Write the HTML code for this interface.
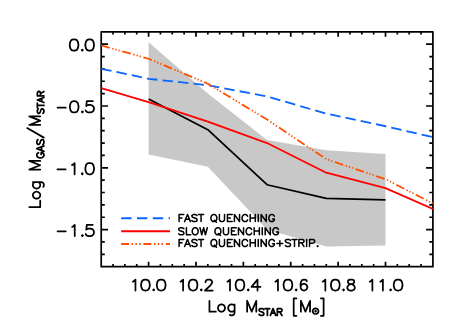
<!DOCTYPE html>
<html><head><meta charset="utf-8"><title>plot</title><style>html,body{margin:0;padding:0;background:#fff;font-family:"Liberation Sans",sans-serif}svg{display:block}</style></head><body>
<svg width="463" height="331" viewBox="0 0 463 331">
<rect width="463" height="331" fill="#fff"/>
<polygon fill="#c8c8c8" points="148.59,42.31 207.82,93.62 267.05,139.98 326.28,150.24 385.51,153.95 385.51,245.44 326.28,246.42 267.05,229.61 207.82,166.81 148.59,154.57"/>
<line x1="121.2" y1="218.3" x2="170" y2="218.3" stroke="#0a64ff" stroke-width="2.1" stroke-dasharray="10.4 5.4"/>
<line x1="121.2" y1="231.2" x2="170" y2="231.2" stroke="#ff0000" stroke-width="2.1"/>
<line x1="121.2" y1="244.05" x2="170" y2="244.05" stroke="#ff4e00" stroke-width="2.1" stroke-dasharray="7.8 2.65 1.5 2.25 1.5 2.25 1.5 2.85"/>
<path d="M101.2 31.8H432.9V266.7H101.2ZM113.05 266.7v-1.8M113.05 31.8v1.8M124.89 266.7v-1.8M124.89 31.8v1.8M136.74 266.7v-1.8M136.74 31.8v1.8M148.59 266.7v-4M148.59 31.8v4M160.43 266.7v-1.8M160.43 31.8v1.8M172.28 266.7v-1.8M172.28 31.8v1.8M184.12 266.7v-1.8M184.12 31.8v1.8M195.97 266.7v-4M195.97 31.8v4M207.82 266.7v-1.8M207.82 31.8v1.8M219.66 266.7v-1.8M219.66 31.8v1.8M231.51 266.7v-1.8M231.51 31.8v1.8M243.36 266.7v-4M243.36 31.8v4M255.2 266.7v-1.8M255.2 31.8v1.8M267.05 266.7v-1.8M267.05 31.8v1.8M278.9 266.7v-1.8M278.9 31.8v1.8M290.74 266.7v-4M290.74 31.8v4M302.59 266.7v-1.8M302.59 31.8v1.8M314.44 266.7v-1.8M314.44 31.8v1.8M326.28 266.7v-1.8M326.28 31.8v1.8M338.13 266.7v-4M338.13 31.8v4M349.98 266.7v-1.8M349.98 31.8v1.8M361.82 266.7v-1.8M361.82 31.8v1.8M373.67 266.7v-1.8M373.67 31.8v1.8M385.51 266.7v-4M385.51 31.8v4M397.36 266.7v-1.8M397.36 31.8v1.8M409.21 266.7v-1.8M409.21 31.8v1.8M421.05 266.7v-1.8M421.05 31.8v1.8M101.2 44.16h6M432.9 44.16h-6M101.2 56.53h2.75M432.9 56.53h-2.75M101.2 68.89h2.75M432.9 68.89h-2.75M101.2 81.25h2.75M432.9 81.25h-2.75M101.2 93.62h2.75M432.9 93.62h-2.75M101.2 105.98h6M432.9 105.98h-6M101.2 118.34h2.75M432.9 118.34h-2.75M101.2 130.71h2.75M432.9 130.71h-2.75M101.2 143.07h2.75M432.9 143.07h-2.75M101.2 155.43h2.75M432.9 155.43h-2.75M101.2 167.79h6M432.9 167.79h-6M101.2 180.16h2.75M432.9 180.16h-2.75M101.2 192.52h2.75M432.9 192.52h-2.75M101.2 204.88h2.75M432.9 204.88h-2.75M101.2 217.25h2.75M432.9 217.25h-2.75M101.2 229.61h6M432.9 229.61h-6M101.2 241.97h2.75M432.9 241.97h-2.75M101.2 254.34h2.75M432.9 254.34h-2.75" fill="none" stroke="#000" stroke-width="1.7" stroke-linejoin="round" stroke-linecap="square"/>
<clipPath id="c"><rect x="101.2" y="31.8" width="331.7" height="234.9"/></clipPath>
<g clip-path="url(#c)">
<polyline fill="none" stroke="#000" stroke-width="1.75" stroke-linejoin="round" points="148.59,98.93 207.82,129.72 267.05,184.73 326.28,198.33 385.51,199.94"/>
<polyline fill="none" stroke="#0a64ff" stroke-width="1.8" stroke-dasharray="10.5 5.1" stroke-linejoin="round" points="101.2,68.77 148.59,78.78 207.82,85.21 267.05,96.46 326.28,113.64 385.51,126.25 432.9,137.13"/>
<polyline fill="none" stroke="#ff0000" stroke-width="1.8" stroke-linejoin="round" points="101.2,88.05 148.59,102.15 207.82,121.56 267.05,143.07 326.28,172.74 385.51,188.07 432.9,208.96"/>
<polyline fill="none" stroke="#ff4e00" stroke-width="1.8" stroke-dasharray="8.85 2.62 1.34 1.9 1.34 1.9 1.34 2.62" stroke-linejoin="round" points="101.2,45.4 148.59,58.75 207.82,83.73 267.05,119.58 326.28,159.14 385.51,179.17 432.9,203.52"/>
</g>
<path d="M78.4 44.21L78.4 45.82L77.78 48.51L76.55 50.13L74.7 50.66L73.47 50.66L71.62 50.13L70.39 48.51L69.77 45.82L69.77 44.21L70.39 41.52L71.62 39.9L73.47 39.37L74.7 39.37L76.55 39.9L77.78 41.52L78.4 44.21M82.77 50.13L82.25 50.66L81.73 50.13L82.25 49.59L82.77 50.13M94 44.21L94 45.82L93.38 48.51L92.15 50.13L90.3 50.66L89.07 50.66L87.22 50.13L85.99 48.51L85.37 45.82L85.37 44.21L85.99 41.52L87.22 39.9L89.07 39.37L90.3 39.37L92.15 39.9L93.38 41.52L94 44.21M57.57 107.64L65.74 107.64M78.53 106.02L78.53 107.64L77.91 110.33L76.68 111.94L74.83 112.48L73.6 112.48L71.75 111.94L70.52 110.33L69.9 107.64L69.9 106.02L70.52 103.33L71.75 101.72L73.6 101.18L74.83 101.18L76.68 101.72L77.91 103.33L78.53 106.02M82.9 111.94L82.38 112.48L81.86 111.94L82.38 111.4L82.9 111.94M85.63 110.33L86.23 111.4L86.82 111.94L88.62 112.48L90.41 112.48L92.21 111.94L93.4 110.86L94 109.25L94 108.17L93.4 106.56L92.21 105.48L90.41 104.95L88.62 104.95L86.82 105.48L86.23 106.02L86.82 101.18L92.8 101.18M57.45 169.45L65.61 169.45M74.61 174.29L74.61 163L73.05 164.61L72.01 165.15M82.77 173.76L82.25 174.29L81.73 173.76L82.25 173.22L82.77 173.76M94 167.84L94 169.45L93.38 172.14L92.15 173.76L90.3 174.29L89.07 174.29L87.22 173.76L85.99 172.14L85.37 169.45L85.37 167.84L85.99 165.15L87.22 163.53L89.07 163L90.3 163L92.15 163.53L93.38 165.15L94 167.84M57.57 231.27L65.74 231.27M74.73 236.11L74.73 224.81L73.17 226.43L72.13 226.96M82.9 235.57L82.38 236.11L81.86 235.57L82.38 235.03L82.9 235.57M85.63 233.96L86.23 235.03L86.82 235.57L88.62 236.11L90.41 236.11L92.21 235.57L93.4 234.5L94 232.88L94 231.81L93.4 230.19L92.21 229.12L90.41 228.58L88.62 228.58L86.82 229.12L86.23 229.65L86.82 224.81L92.8 224.81M135.46 290.5L135.46 279.58L133.88 281.14L132.83 281.66M149.79 284.26L149.79 285.82L149.17 288.42L147.92 289.98L146.06 290.5L144.81 290.5L142.94 289.98L141.7 288.42L141.08 285.82L141.08 284.26L141.7 281.66L142.94 280.1L144.81 279.58L146.06 279.58L147.92 280.1L149.17 281.66L149.79 284.26M154.2 289.98L153.68 290.5L153.15 289.98L153.68 289.46L154.2 289.98M165.54 284.26L165.54 285.82L164.92 288.42L163.67 289.98L161.81 290.5L160.56 290.5L158.69 289.98L157.45 288.42L156.83 285.82L156.83 284.26L157.45 281.66L158.69 280.1L160.56 279.58L161.81 279.58L163.67 280.1L164.92 281.66L165.54 284.26M183.09 290.5L183.09 279.58L181.52 281.14L180.47 281.66M197.42 284.26L197.42 285.82L196.8 288.42L195.56 289.98L193.69 290.5L192.44 290.5L190.58 289.98L189.33 288.42L188.71 285.82L188.71 284.26L189.33 281.66L190.58 280.1L192.44 279.58L193.69 279.58L195.56 280.1L196.8 281.66L197.42 284.26M201.83 289.98L201.31 290.5L200.78 289.98L201.31 289.46L201.83 289.98M212.68 290.5L204.96 290.5L210.47 285.3L211.57 283.74L212.12 282.7L212.12 281.66L211.57 280.62L211.02 280.1L209.92 279.58L207.71 279.58L206.61 280.1L206.06 280.62L205.51 281.66L205.51 282.18M229.99 290.5L229.99 279.58L228.42 281.14L227.37 281.66M244.32 284.26L244.32 285.82L243.7 288.42L242.46 289.98L240.59 290.5L239.35 290.5L237.48 289.98L236.23 288.42L235.61 285.82L235.61 284.26L236.23 281.66L237.48 280.1L239.35 279.58L240.59 279.58L242.46 280.1L243.7 281.66L244.32 284.26M248.73 289.98L248.21 290.5L247.68 289.98L248.21 289.46L248.73 289.98M257.53 290.5L257.53 279.58L251.49 286.86L260.55 286.86M277.96 290.5L277.96 279.58L276.38 281.14L275.33 281.66M292.29 284.26L292.29 285.82L291.66 288.42L290.42 289.98L288.55 290.5L287.31 290.5L285.44 289.98L284.2 288.42L283.58 285.82L283.58 284.26L284.2 281.66L285.44 280.1L287.31 279.58L288.55 279.58L290.42 280.1L291.66 281.66L292.29 284.26M296.7 289.98L296.17 290.5L295.65 289.98L296.17 289.46L296.7 289.98M300.53 286.86L301.06 285.3L302.11 284.26L303.68 283.74L304.21 283.74L305.78 284.26L306.83 285.3L307.36 286.86L307.36 287.38L306.83 288.94L305.78 289.98L304.21 290.5L303.68 290.5L302.11 289.98L301.06 288.94L300.53 286.86L300.53 284.26L301.06 281.66L302.11 280.1L303.68 279.58L304.73 279.58L306.31 280.1L306.83 281.14M325.34 290.5L325.34 279.58L323.77 281.14L322.72 281.66M339.67 284.26L339.67 285.82L339.05 288.42L337.8 289.98L335.94 290.5L334.69 290.5L332.83 289.98L331.58 288.42L330.96 285.82L330.96 284.26L331.58 281.66L332.83 280.1L334.69 279.58L335.94 279.58L337.8 280.1L339.05 281.66L339.67 284.26M344.08 289.98L343.56 290.5L343.03 289.98L343.56 289.46L344.08 289.98M354.22 285.82L354.74 286.86L354.74 288.42L354.22 289.46L353.69 289.98L352.12 290.5L350.02 290.5L348.44 289.98L347.92 289.46L347.39 288.42L347.39 286.86L347.92 285.82L348.97 284.78L350.54 284.26L352.64 283.74L353.69 283.22L354.22 282.18L354.22 281.14L353.69 280.1L352.12 279.58L350.02 279.58L348.44 280.1L347.92 281.14L347.92 282.18L348.44 283.22L349.49 283.74L351.59 284.26L353.17 284.78L354.22 285.82M372.39 290.5L372.39 279.58L370.81 281.14L369.76 281.66M382.89 290.5L382.89 279.58L381.31 281.14L380.26 281.66M391.13 289.98L390.6 290.5L390.08 289.98L390.6 289.46L391.13 289.98M402.47 284.26L402.47 285.82L401.84 288.42L400.6 289.98L398.73 290.5L397.49 290.5L395.62 289.98L394.38 288.42L393.76 285.82L393.76 284.26L394.38 281.66L395.62 280.1L397.49 279.58L398.73 279.58L400.6 280.1L401.84 281.66L402.47 284.26M215.86 311.7L209.44 311.7L209.44 300.78M224.96 307.54L224.96 308.58L224.42 310.14L223.35 311.18L222.28 311.7L220.68 311.7L219.61 311.18L218.54 310.14L218 308.58L218 307.54L218.54 305.98L219.61 304.94L220.68 304.42L222.28 304.42L223.35 304.94L224.42 305.98L224.96 307.54M229.77 314.82L230.84 315.34L232.45 315.34L233.52 314.82L234.05 314.3L234.59 312.74L234.59 304.42M234.59 310.14L233.52 311.18L232.45 311.7L230.84 311.7L229.77 311.18L228.7 310.14L228.17 308.58L228.17 307.54L228.7 305.98L229.77 304.94L230.84 304.42L232.45 304.42L233.52 304.94L234.59 305.98M256.28 311.7L256.28 300.78L251.71 311.7L247.13 300.78L247.13 311.7M259.12 314.43L259.78 315.08L260.78 315.4L262.11 315.4L263.1 315.08L263.76 314.43L263.76 313.47L263.43 312.82L263.1 312.5L262.44 312.18L260.45 311.53L259.78 311.21L259.45 310.89L259.12 310.24L259.12 309.6L259.78 308.95L260.78 308.63L262.11 308.63L263.1 308.95L263.76 309.6M267.41 315.4L267.41 308.63M265.09 308.63L269.73 308.63M270.4 315.4L273.05 308.63L275.71 315.4M271.39 313.14L274.71 313.14M277.36 315.4L277.36 308.63L280.35 308.63L281.34 308.95L281.68 309.27L282.01 309.92L282.01 310.56L281.68 311.21L281.34 311.53L280.35 311.85L277.36 311.85M282.01 315.4L279.69 311.85M296.38 315.86L293.7 315.86L293.7 298.44L296.38 298.44M310.05 311.7L310.05 300.78L305.47 311.7L300.89 300.78L300.89 311.7M318.47 311.19L318.25 310.12L317.63 309.21L316.69 308.6L315.58 308.38L314.48 308.6L313.54 309.21L312.91 310.12L312.69 311.19L312.91 312.27L313.54 313.18L314.48 313.79L315.58 314L316.69 313.79L317.63 313.18L318.25 312.27L318.47 311.19M315.97 311.19L315.78 310.87L315.39 310.87L315.2 311.19L315.39 311.52L315.78 311.52L315.97 311.19M320.93 315.86L323.61 315.86L323.61 298.44L320.93 298.44M40.2 200.72L40.2 207.08L29.28 207.08M36.04 191.71L37.08 191.71L38.64 192.24L39.68 193.3L40.2 194.36L40.2 195.95L39.68 197.01L38.64 198.07L37.08 198.6L36.04 198.6L34.48 198.07L33.44 197.01L32.92 195.95L32.92 194.36L33.44 193.3L34.48 192.24L36.04 191.71M43.32 186.94L43.84 185.88L43.84 184.29L43.32 183.23L42.8 182.7L41.24 182.17L32.92 182.17M38.64 182.17L39.68 183.23L40.2 184.29L40.2 185.88L39.68 186.94L38.64 188L37.08 188.53L36.04 188.53L34.48 188L33.44 186.94L32.92 185.88L32.92 184.29L33.44 183.23L34.48 182.17M40.2 160.89L29.28 160.89L40.2 165.21L29.28 169.53L40.2 169.53M41.22 154.41L41.22 152.7L42.22 152.7L42.89 153.04L43.56 153.72L43.9 154.41L43.9 155.77L43.56 156.46L42.89 157.14L42.22 157.48L41.22 157.82L39.54 157.82L38.53 157.48L37.86 157.14L37.19 156.46L36.86 155.77L36.86 154.41L37.19 153.72L37.86 153.04L38.53 152.7M43.9 151.33L36.86 148.59L43.9 145.86M41.55 150.3L41.55 146.89M42.89 144.49L43.56 143.81L43.9 142.78L43.9 141.42L43.56 140.39L42.89 139.71L41.89 139.71L41.22 140.05L40.88 140.39L40.55 141.07L39.88 143.12L39.54 143.81L39.2 144.15L38.53 144.49L37.86 144.49L37.19 143.81L36.86 142.78L36.86 141.42L37.19 140.39L37.86 139.71M43.84 137.62L27.2 128.08M40.2 116.34L29.28 116.34L40.2 120.66L29.28 124.99L40.2 124.99M42.96 113.35L43.59 112.71L43.9 111.76L43.9 110.48L43.59 109.53L42.96 108.89L42.03 108.89L41.4 109.21L41.09 109.53L40.78 110.17L40.16 112.07L39.84 112.71L39.53 113.03L38.91 113.35L38.28 113.35L37.66 112.71L37.35 111.76L37.35 110.48L37.66 109.53L38.28 108.89M43.9 105.4L37.35 105.4M37.35 107.62L37.35 103.17M43.9 102.53L37.35 99.99L43.9 97.45M41.72 101.58L41.72 98.4M43.9 95.86L37.35 95.86L37.35 92.99L37.66 92.04L37.97 91.72L38.6 91.4L39.22 91.4L39.84 91.72L40.16 92.04L40.47 92.99L40.47 95.86M43.9 91.4L40.47 93.63" fill="none" stroke="#000" stroke-width="1.75" stroke-linecap="round" stroke-linejoin="round"/>
<path d="M179.07 221.6L179.07 214.56L183.83 214.56M179.07 217.91L182 217.91M184.56 221.6L187.5 214.56L190.43 221.6M185.66 219.25L189.33 219.25M191.89 220.59L192.63 221.26L193.73 221.6L195.19 221.6L196.29 221.26L197.02 220.59L197.02 219.59L196.66 218.92L196.29 218.59L195.56 218.25L193.36 217.58L192.63 217.25L192.26 216.91L191.89 216.24L191.89 215.57L192.63 214.9L193.73 214.56L195.19 214.56L196.29 214.9L197.02 215.57M201.06 221.6L201.06 214.56M198.49 214.56L203.62 214.56M216.45 222.27L214.25 220.26M216.82 218.92L216.45 219.92L216.08 220.59L215.35 221.26L214.62 221.6L213.15 221.6L212.42 221.26L211.68 220.59L211.32 219.92L210.95 218.92L210.95 217.25L211.32 216.24L211.68 215.57L212.42 214.9L213.15 214.56L214.62 214.56L215.35 214.9L216.08 215.57L216.45 216.24L216.82 217.25L216.82 218.92M224.51 214.56L224.51 219.59L224.15 220.59L223.41 221.26L222.31 221.6L221.58 221.6L220.48 221.26L219.75 220.59L219.38 219.59L219.38 214.56M232.21 221.6L227.44 221.6L227.44 214.56L232.21 214.56M227.44 217.91L230.38 217.91M239.54 214.56L239.54 221.6L234.41 214.56L234.41 221.6M247.6 219.92L247.24 220.59L246.5 221.26L245.77 221.6L244.3 221.6L243.57 221.26L242.84 220.59L242.47 219.92L242.1 218.92L242.1 217.25L242.47 216.24L242.84 215.57L243.57 214.9L244.3 214.56L245.77 214.56L246.5 214.9L247.24 215.57L247.6 216.24M250.17 221.6L250.17 214.56M255.3 221.6L255.3 214.56M250.17 217.91L255.3 217.91M258.23 221.6L258.23 214.56M266.29 214.56L266.29 221.6L261.16 214.56L261.16 221.6M272.52 218.92L274.36 218.92L274.36 219.92L273.99 220.59L273.26 221.26L272.52 221.6L271.06 221.6L270.32 221.26L269.59 220.59L269.23 219.92L268.86 218.92L268.86 217.25L269.23 216.24L269.59 215.57L270.32 214.9L271.06 214.56L272.52 214.56L273.26 214.9L273.99 215.57L274.36 216.24M178.7 233.8L179.43 234.47L180.53 234.8L182 234.8L183.1 234.47L183.83 233.8L183.83 232.79L183.46 232.12L183.1 231.79L182.36 231.45L180.17 230.78L179.43 230.45L179.07 230.11L178.7 229.44L178.7 228.77L179.43 228.1L180.53 227.77L182 227.77L183.1 228.1L183.83 228.77M190.79 234.8L186.4 234.8L186.4 227.77M198.12 232.12L197.76 233.12L197.39 233.8L196.66 234.47L195.93 234.8L194.46 234.8L193.73 234.47L192.99 233.8L192.63 233.12L192.26 232.12L192.26 230.45L192.63 229.44L192.99 228.77L193.73 228.1L194.46 227.77L195.93 227.77L196.66 228.1L197.39 228.77L197.76 229.44L198.12 230.45L198.12 232.12M207.29 227.77L205.45 234.8L203.62 227.77L201.79 234.8L199.96 227.77M220.48 235.47L218.28 233.46M220.85 232.12L220.48 233.12L220.11 233.8L219.38 234.47L218.65 234.8L217.18 234.8L216.45 234.47L215.72 233.8L215.35 233.12L214.98 232.12L214.98 230.45L215.35 229.44L215.72 228.77L216.45 228.1L217.18 227.77L218.65 227.77L219.38 228.1L220.11 228.77L220.48 229.44L220.85 230.45L220.85 232.12M228.54 227.77L228.54 232.79L228.18 233.8L227.44 234.47L226.34 234.8L225.61 234.8L224.51 234.47L223.78 233.8L223.41 232.79L223.41 227.77M236.24 234.8L231.48 234.8L231.48 227.77L236.24 227.77M231.48 231.12L234.41 231.12M243.57 227.77L243.57 234.8L238.44 227.77L238.44 234.8M251.63 233.12L251.27 233.8L250.53 234.47L249.8 234.8L248.33 234.8L247.6 234.47L246.87 233.8L246.5 233.12L246.14 232.12L246.14 230.45L246.5 229.44L246.87 228.77L247.6 228.1L248.33 227.77L249.8 227.77L250.53 228.1L251.27 228.77L251.63 229.44M254.2 234.8L254.2 227.77M259.33 234.8L259.33 227.77M254.2 231.12L259.33 231.12M262.26 234.8L262.26 227.77M270.32 227.77L270.32 234.8L265.19 227.77L265.19 234.8M276.56 232.12L278.39 232.12L278.39 233.12L278.02 233.8L277.29 234.47L276.56 234.8L275.09 234.8L274.36 234.47L273.62 233.8L273.26 233.12L272.89 232.12L272.89 230.45L273.26 229.44L273.62 228.77L274.36 228.1L275.09 227.77L276.56 227.77L277.29 228.1L278.02 228.77L278.39 229.44M179.07 246.5L179.07 239.47L183.83 239.47M179.07 242.81L182 242.81M184.56 246.5L187.5 239.47L190.43 246.5M185.66 244.16L189.33 244.16M191.89 245.5L192.63 246.16L193.73 246.5L195.19 246.5L196.29 246.16L197.02 245.5L197.02 244.49L196.66 243.82L196.29 243.49L195.56 243.15L193.36 242.48L192.63 242.15L192.26 241.81L191.89 241.14L191.89 240.47L192.63 239.8L193.73 239.47L195.19 239.47L196.29 239.8L197.02 240.47M201.06 246.5L201.06 239.47M198.49 239.47L203.62 239.47M216.45 247.17L214.25 245.16M216.82 243.82L216.45 244.82L216.08 245.5L215.35 246.16L214.62 246.5L213.15 246.5L212.42 246.16L211.68 245.5L211.32 244.82L210.95 243.82L210.95 242.15L211.32 241.14L211.68 240.47L212.42 239.8L213.15 239.47L214.62 239.47L215.35 239.8L216.08 240.47L216.45 241.14L216.82 242.15L216.82 243.82M224.51 239.47L224.51 244.49L224.15 245.5L223.41 246.16L222.31 246.5L221.58 246.5L220.48 246.16L219.75 245.5L219.38 244.49L219.38 239.47M232.21 246.5L227.44 246.5L227.44 239.47L232.21 239.47M227.44 242.81L230.38 242.81M239.54 239.47L239.54 246.5L234.41 239.47L234.41 246.5M247.6 244.82L247.24 245.5L246.5 246.16L245.77 246.5L244.3 246.5L243.57 246.16L242.84 245.5L242.47 244.82L242.1 243.82L242.1 242.15L242.47 241.14L242.84 240.47L243.57 239.8L244.3 239.47L245.77 239.47L246.5 239.8L247.24 240.47L247.6 241.14M250.17 246.5L250.17 239.47M255.3 246.5L255.3 239.47M250.17 242.81L255.3 242.81M258.23 246.5L258.23 239.47M266.29 239.47L266.29 246.5L261.16 239.47L261.16 246.5M272.52 243.82L274.36 243.82L274.36 244.82L273.99 245.5L273.26 246.16L272.52 246.5L271.06 246.5L270.32 246.16L269.59 245.5L269.23 244.82L268.86 243.82L268.86 242.15L269.23 241.14L269.59 240.47L270.32 239.8L271.06 239.47L272.52 239.47L273.26 239.8L273.99 240.47L274.36 241.14M276.92 243.49L282.79 243.49M279.85 246.16L279.85 240.81M285.35 245.5L286.08 246.16L287.18 246.5L288.65 246.5L289.75 246.16L290.48 245.5L290.48 244.49L290.12 243.82L289.75 243.49L289.02 243.15L286.82 242.48L286.08 242.15L285.72 241.81L285.35 241.14L285.35 240.47L286.08 239.8L287.18 239.47L288.65 239.47L289.75 239.8L290.48 240.47M294.51 246.5L294.51 239.47M291.95 239.47L297.08 239.47M298.91 246.5L298.91 239.47L302.21 239.47L303.31 239.8L303.68 240.13L304.04 240.81L304.04 241.47L303.68 242.15L303.31 242.48L302.21 242.81L298.91 242.81M304.04 246.5L301.48 242.81M306.61 246.5L306.61 239.47M309.54 246.5L309.54 239.47L312.84 239.47L313.94 239.8L314.3 240.13L314.67 240.81L314.67 241.81L314.3 242.48L313.94 242.81L312.84 243.15L309.54 243.15M317.97 246.16L317.6 246.5L317.24 246.16L317.6 245.83L317.97 246.16" fill="none" stroke="#000" stroke-width="1.5" stroke-linecap="round" stroke-linejoin="round"/>
</svg>
</body></html>
